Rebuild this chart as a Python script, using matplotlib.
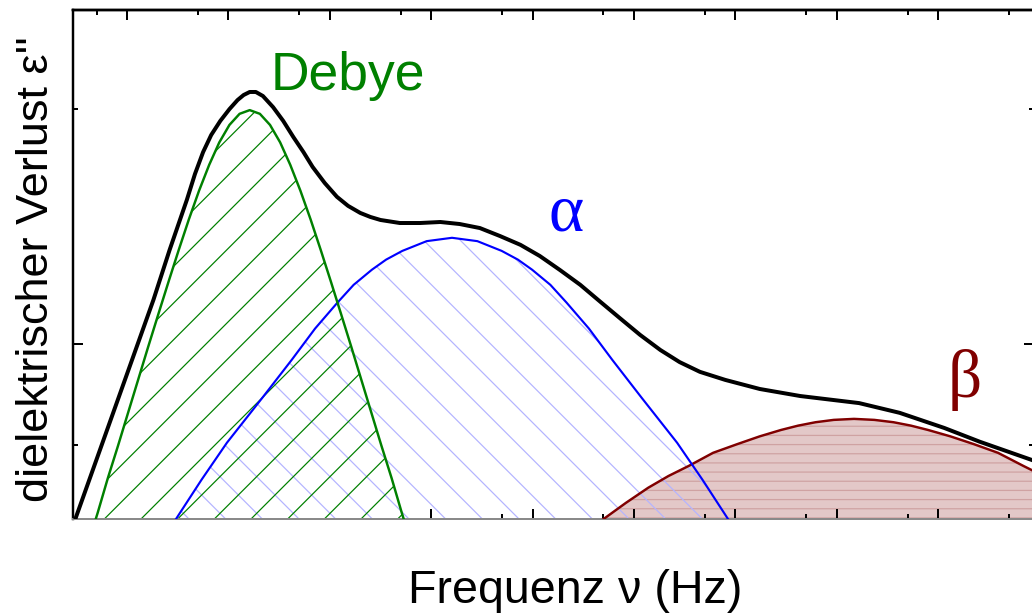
import numpy as np
import matplotlib
matplotlib.use("Agg")
import matplotlib.pyplot as plt

plt.rcParams["font.family"] = ["Liberation Sans", "DejaVu Sans"]
plt.rcParams["hatch.linewidth"] = 0.8

# log10(frequency) and log10(loss) read for each relaxation process
debye_logf = [-0.39, -0.29, -0.19, -0.09, 0.01, 0.11, 0.21, 0.31, 0.41, 0.51, 0.61, 0.71,
              0.81, 0.91, 1.01, 1.11, 1.21, 1.31, 1.41, 1.51, 1.61, 1.71, 1.81, 1.91,
              2.01, 2.11, 2.21, 2.31, 2.41, 2.51, 2.61, 2.71, 2.81]
debye_loss = [-0.600, -0.503, -0.400, -0.304, -0.205, -0.106, -0.007, 0.090, 0.186, 0.280, 0.371, 0.456,
              0.533, 0.600, 0.652, 0.685, 0.696, 0.685, 0.652, 0.600, 0.533, 0.456, 0.371, 0.280,
              0.186, 0.090, -0.007, -0.106, -0.205, -0.304, -0.400, -0.503, -0.600]

alpha_logf = [0.205, 0.485, 0.735, 0.985, 1.335, 1.625, 1.855, 2.075, 2.235, 2.415, 2.555, 2.715,
              2.955, 3.205, 3.455, 3.695, 3.855, 3.995, 4.175, 4.335, 4.555, 4.785, 5.075,
              5.425, 5.675, 5.925, 6.205]
alpha_loss = [-0.644, -0.520, -0.404, -0.294, -0.160, -0.047, 0.046, 0.123, 0.176, 0.221, 0.251, 0.277,
              0.306, 0.316, 0.306, 0.277, 0.251, 0.221, 0.176, 0.123, 0.046, -0.047, -0.160,
              -0.294, -0.404, -0.520, -0.644]

beta_logf = [4.36, 4.70, 4.92, 5.14, 5.34, 5.54, 5.78, 6.02, 6.24, 6.45, 6.62, 6.79, 6.97, 7.17,
             7.37, 7.56, 7.73, 7.90, 8.12, 8.35, 8.59, 8.84, 9.04, 9.24]
beta_loss = [-0.601, -0.521, -0.473, -0.428, -0.393, -0.363, -0.324, -0.298, -0.275, -0.256, -0.243,
             -0.233, -0.226, -0.223, -0.226, -0.233, -0.243, -0.256, -0.275, -0.298, -0.324,
             -0.363, -0.393, -0.428]

total_logf = [-0.56, -0.51, 0.26, 0.42, 0.59, 0.67, 0.75, 0.83, 0.92, 1.01, 1.09, 1.15, 1.21,
              1.27, 1.34, 1.44, 1.54, 1.64, 1.74, 1.83, 1.95, 2.07, 2.18, 2.30, 2.40, 2.50,
              2.69, 2.89, 3.09, 3.28, 3.48, 3.68, 3.88, 4.07, 4.27, 4.47, 4.67, 4.86, 5.06,
              5.26, 5.45, 5.65, 5.90, 6.24, 6.64, 7.22, 7.62, 8.06, 8.41, 8.93, 9.10]
total_loss = [-0.568, -0.521, 0.131, 0.280, 0.429, 0.506, 0.571, 0.622, 0.664, 0.699, 0.726, 0.741, 0.750,
              0.750, 0.738, 0.705, 0.664, 0.616, 0.571, 0.527, 0.479, 0.438, 0.411, 0.390, 0.378, 0.369,
              0.360, 0.360, 0.363, 0.357, 0.345, 0.321, 0.295, 0.262, 0.220, 0.176, 0.125, 0.077, 0.027,
              -0.018, -0.054, -0.083, -0.107, -0.134, -0.155, -0.176, -0.205, -0.250, -0.291, -0.346, -0.368]

DPI = 110
fig = plt.figure(figsize=(1032 / DPI, 614 / DPI), dpi=DPI)
ax = fig.add_axes([73 / 1032, 95 / 614, 961 / 1032, 509 / 614])
ax.set_xlim(-0.533, 8.945)
ax.set_ylim(-0.521, 0.994)

floor = -2
ax.fill_between(beta_logf, beta_loss, floor, facecolor="#e3c8c8", edgecolor="#cfa2a2",
                hatch="--", linewidth=0, zorder=1)
ax.fill_between(alpha_logf, alpha_loss, floor, facecolor="none", edgecolor="#b4b4ff",
                hatch="\\", linewidth=0, zorder=2)
ax.fill_between(debye_logf, debye_loss, floor, facecolor="none", edgecolor="#008000",
                hatch="/", linewidth=0, zorder=2)

ax.plot(beta_logf, beta_loss, color="#800000", lw=1.6, zorder=3)
ax.plot(alpha_logf, alpha_loss, color="#0000ff", lw=1.4, zorder=3)
ax.plot(debye_logf, debye_loss, color="#008000", lw=1.6, zorder=3)
ax.plot(total_logf, total_loss, color="black", lw=2.6, zorder=4,
        solid_joinstyle="round", solid_capstyle="round")

ax.text(1.42, 0.756, "Debye", color="#008000", fontsize=35, ha="left", va="baseline")
ax.text(4.33, 0.339, "α", color="#0000ff", fontsize=44, ha="center", va="baseline",
        family=["Liberation Serif", "DejaVu Serif"])
ax.text(8.26, -0.158, "β", color="#800000", fontsize=44, ha="center", va="baseline",
        family=["Liberation Serif", "DejaVu Serif"])

# bottom ticks only where the fills leave room, full set along the top
ax.set_xticks([3, 4, 5, 6, 7, 8])
ax.set_xticks([3.699, 4.699, 5.699, 6.699, 7.699, 8.699], minor=True)
ax.set_xticklabels([])
ax.set_yticks([0])
ax.set_yticks([-0.301, 0.699], minor=True)
ax.set_yticklabels([])
ax.tick_params(which="both", direction="in", right=True, width=1.3, color="black")
ax.tick_params(which="major", length=6.5)
ax.tick_params(which="minor", length=3.3)

top = ax.secondary_xaxis("top")
top.set_xticks(range(0, 9))
top.set_xticks([-0.301 + k for k in range(0, 10)], minor=True)
top.set_xticklabels([])
top.tick_params(which="both", direction="in", width=1.3)
top.tick_params(which="major", length=6.5)
top.tick_params(which="minor", length=3.3)
top.spines["top"].set_linewidth(1.6)

for side in ["left", "right", "top"]:
    ax.spines[side].set_linewidth(1.6)
ax.spines["bottom"].set_color("#8a8a8a")
ax.spines["bottom"].set_linewidth(1.3)

fig.text(575 / 1032, 11 / 614, "Frequenz ν (Hz)", fontsize=30.5, ha="center", va="baseline")
fig.text(48 / 1032, 345 / 614, "dielektrischer Verlust ε''", fontsize=29.5, rotation=90,
         rotation_mode="anchor", ha="center", va="baseline")

fig.savefig("out.png", dpi=DPI)
